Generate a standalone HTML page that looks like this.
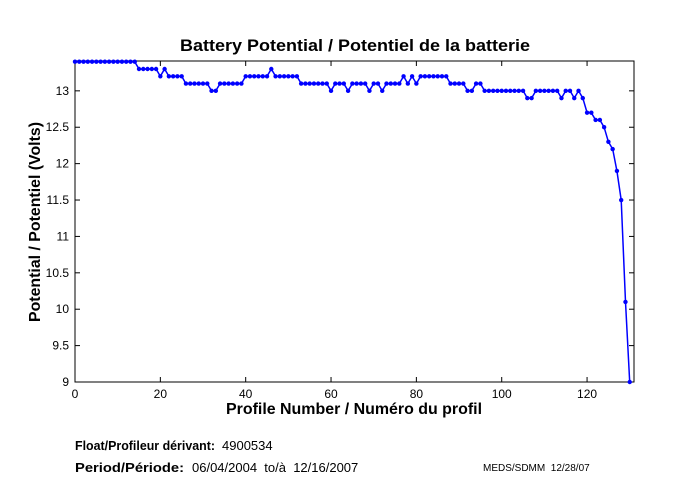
<!DOCTYPE html>
<html><head><meta charset="utf-8"><style>
html,body{margin:0;padding:0;background:#fff;}
svg{display:block;font-family:"Liberation Sans",Arial,sans-serif;}
</style></head><body>
<svg id="s" width="680" height="500" xmlns="http://www.w3.org/2000/svg">
<rect width="680" height="500" fill="#fff"/>
<text x="180" y="51" font-size="17" font-weight="bold" textLength="350" lengthAdjust="spacingAndGlyphs">Battery Potential / Potentiel de la batterie</text>
<g id="ax" stroke="#000" stroke-width="1" fill="none"></g>
<g id="lbl" font-size="12"></g>
<polyline id="ln" fill="none" stroke="#0000ff" stroke-width="1.5"/>
<g id="mk" fill="#0000ff"></g>
<text x="226" y="414" font-size="16" font-weight="bold" textLength="256" lengthAdjust="spacingAndGlyphs">Profile Number / Numéro du profil</text>
<text transform="translate(40,322) rotate(-90)" font-size="16" font-weight="bold" textLength="200" lengthAdjust="spacingAndGlyphs">Potential / Potentiel (Volts)</text>
<text x="75" y="450" font-size="13" font-weight="bold" textLength="140" lengthAdjust="spacingAndGlyphs">Float/Profileur dérivant:</text>
<text x="222" y="450" font-size="13">4900534</text>
<text x="75" y="472" font-size="13" font-weight="bold" textLength="109" lengthAdjust="spacingAndGlyphs">Period/Période:</text>
<text x="192" y="472" font-size="13" xml:space="preserve">06/04/2004  to/à  12/16/2007</text>
<text x="483" y="471" font-size="10" xml:space="preserve">MEDS/SDMM  12/28/07</text>
</svg>
<script>
var L=75,T=61,R=634,B=382,X0=0,X1=131,Y0=9,Y1=13.41;
function px(x){return L+(x-X0)/(X1-X0)*(R-L);}
function py(y){return B-(y-Y0)/(Y1-Y0)*(B-T);}
var ns="http://www.w3.org/2000/svg";
function el(p,t,a){var e=document.createElementNS(ns,t);for(var k in a)e.setAttribute(k,a[k]);p.appendChild(e);return e;}
var ax=document.getElementById('ax'),lb=document.getElementById('lbl');
el(ax,'rect',{x:L,y:T,width:R-L,height:B-T});
for(var x=0;x<=120;x+=20){var X=px(x);el(ax,'line',{x1:X,y1:B,x2:X,y2:B-5});el(ax,'line',{x1:X,y1:T,x2:X,y2:T+5});
var t=el(lb,'text',{x:X,y:B+16,'text-anchor':'middle'});t.textContent=x;}
for(var y=9;y<=13.001;y+=0.5){var Y=py(y);el(ax,'line',{x1:L,y1:Y,x2:L+5,y2:Y});el(ax,'line',{x1:R,y1:Y,x2:R-5,y2:Y});
var t=el(lb,'text',{x:L-6,y:Y+4,'text-anchor':'end'});t.textContent=(Math.round(y*10)/10).toString();}
var d=[];function s(a,b,v){for(var i=a;i<=b;i++)d[i]=v;}
s(0,14,13.4);s(15,19,13.3);s(20,20,13.2);s(21,21,13.3);s(22,25,13.2);s(26,31,13.1);s(32,33,13.0);s(34,39,13.1);
s(40,45,13.2);s(46,46,13.3);s(47,52,13.2);s(53,59,13.1);s(60,60,13.0);s(61,63,13.1);s(64,64,13.0);s(65,68,13.1);
s(69,69,13.0);s(70,71,13.1);s(72,72,13.0);s(73,76,13.1);s(77,77,13.2);s(78,78,13.1);s(79,79,13.2);s(80,80,13.1);
s(81,87,13.2);s(88,91,13.1);s(92,93,13.0);s(94,95,13.1);s(96,105,13.0);s(106,107,12.9);s(108,113,13.0);
s(114,114,12.9);s(115,116,13.0);s(117,117,12.9);s(118,118,13.0);s(119,119,12.9);s(120,121,12.7);s(122,123,12.6);
s(124,124,12.5);s(125,125,12.3);s(126,126,12.2);s(127,127,11.9);s(128,128,11.5);s(129,129,10.1);s(130,130,9.0);
var pts=[],mk=document.getElementById('mk');
for(var i=0;i<d.length;i++){var X=px(i),Y=py(d[i]);pts.push(X.toFixed(1)+','+Y.toFixed(1));el(mk,'circle',{cx:X,cy:Y,r:2.2});}
document.getElementById('ln').setAttribute('points',pts.join(' '));
</script>
</body></html>
